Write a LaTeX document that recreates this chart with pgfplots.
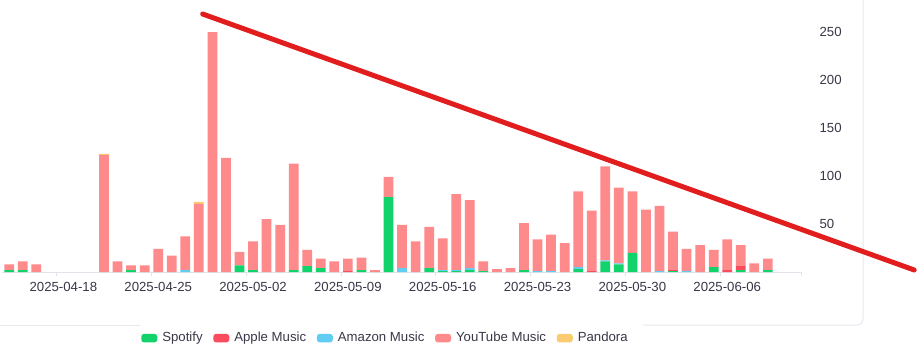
\documentclass[border=0pt]{standalone}
\usepackage{fontspec}
\setmainfont{Liberation Sans}
\usepackage{pgfplots}
\pgfplotsset{compat=1.18}
\usepackage{pgfplotstable}
\definecolor{spotify}{HTML}{12D36B}
\definecolor{apple}{HTML}{FA4B5F}
\definecolor{amazon}{HTML}{61CDF2}
\definecolor{youtube}{HTML}{FF8A8C}
\definecolor{pandora}{HTML}{FBCB72}
\definecolor{axisgray}{HTML}{E0E3EA}
\definecolor{cardgray}{HTML}{E6E8EE}
\definecolor{labelcol}{HTML}{383848}
\definecolor{redline}{HTML}{E11D1D}

\pgfplotstableread{
i sp ap am yt pa
0 2 0 0 6 0
1 2 0 0 9 0
2 0 0 0 8 0
3 0 0 0 0 0
4 0 0 0 0 0
5 0 0 0 0 0
6 0 0 0 0 0
7 0 0 0 122 1
8 0 0 0 11 0
9 2 0 0 5 0
10 0 0 0 7 0
11 0 0 0 24 0
12 0 0 0 17 0
13 0 0 2 35 0
14 0 0 0 71 2
15 0 0 0 250 0
16 0 0 0 119 0
17 7 0 0 14 0
18 2 0 0 30 0
19 0 0 0 55 0
20 0 0 0 49 0
21 2 0 0 111 0
22 6 0 0 17 0
23 4 0 0 10 0
24 0 0 0 11 0
25 0 1 0 13 0
26 2 0 0 13 0
27 0 0 0 2 0
28 78 0 0 21 0
29 0 0 4 45 0
30 0 0 0 32 0
31 4 0 0 43 0
32 1 0 1 33 0
33 1 0 1 79 0
34 2 0 2 71 0
35 1 0 0 10 0
36 0 0 0 3 0
37 0 0 0 4 0
38 2 0 0 49 0
39 0 0 1 33 0
40 0 0 1 38 0
41 0 0 0 30 0
42 3 0 2 79 0
43 0 1 0 63 0
44 11 0 1 98 0
45 8 0 1 79 0
46 20 0 0 64 0
47 0 0 0 65 0
48 0 0 1 68 0
49 1 1 0 40 0
50 0 0 1 23 0
51 0 0 0 28 0
52 5 0 0 18 0
53 0 2 0 32 0
54 2 4 0 22 0
55 0 0 0 9 0
56 2 0 0 12 0
57 0 0 0 0 0
58 0 0 0 0 0
}\data

\pgfplotsset{
  swatch/.style={legend image code/.code={\fill[#1,rounded corners=2.2pt] (0pt,-3.25pt) rectangle (12pt,3.25pt);}}
}

\begin{document}
\begin{tikzpicture}[x=0.75pt,y=0.75pt]
\path[use as bounding box, fill=white] (0,0) rectangle (920,358);
\draw[cardgray, line width=0.75pt, rounded corners=4.5pt] (863,358) -- (863,33) -- (643,33);
\draw[cardgray, line width=0.75pt] (140,33) -- (0,33);
\begin{axis}[
  at={(1.8pt,64.5pt)}, anchor=south west,
  scale only axis, width=599.5pt, height=201.6pt,
  xmin=-0.5, xmax=58.5, ymin=0, ymax=280,
  enlargelimits=false, clip=false,
  ybar stacked, bar width=7.3pt,
  axis x line*=bottom, axis y line*=right,
  x axis line style={draw=axisgray, line width=0.75pt, -},
  y axis line style={draw=none},
  xtick={3.5,10.5,17.5,24.5,31.5,38.5,45.5,52.5,58.5},
  xticklabels={2025-04-18,2025-04-25,2025-05-02,2025-05-09,2025-05-16,2025-05-23,2025-05-30,2025-06-06,},
  xtick align=outside, major tick length=3.3pt,
  xtick style={draw=axisgray, line width=0.75pt},
  xticklabel style={anchor=center, xshift=5.09pt, yshift=-7.6pt},
  ytick={50,100,150,200,250},
  ytick style={draw=none},
  yticklabel style={anchor=west, inner xsep=0pt, xshift=13.2pt},
  tick label style={font=\fontsize{9.9}{12}\selectfont, text=labelcol},
  /pgf/number format/assume math mode=true,
  legend columns=5,
  legend style={at={(0.478,-0.246)}, anchor=center, draw=none, fill=white,
    font=\fontsize{9.9}{12}\selectfont, text=labelcol,
    column sep=3.75pt,
    /tikz/every even column/.append style={column sep=8pt},
    nodes={inner xsep=0pt, inner ysep=1pt}},
  legend cell align=left,
]
\addplot[fill=spotify, draw=none, swatch=spotify] table[x=i,y=sp]{\data};
\addlegendentry{Spotify}
\addplot[fill=apple, draw=none, swatch=apple] table[x=i,y=ap]{\data};
\addlegendentry{Apple Music}
\addplot[fill=amazon, draw=none, swatch=amazon] table[x=i,y=am]{\data};
\addlegendentry{Amazon Music}
\addplot[fill=youtube, draw=none, swatch=youtube] table[x=i,y=yt]{\data};
\addlegendentry{YouTube Music}
\addplot[fill=pandora, draw=none, swatch=pandora] table[x=i,y=pa]{\data};
\addlegendentry{Pandora}
\draw[redline, line width=3.75pt, line cap=round] (axis cs:14.28,268.75) -- (axis cs:66.8,2.1);
\end{axis}
\end{tikzpicture}
\end{document}
